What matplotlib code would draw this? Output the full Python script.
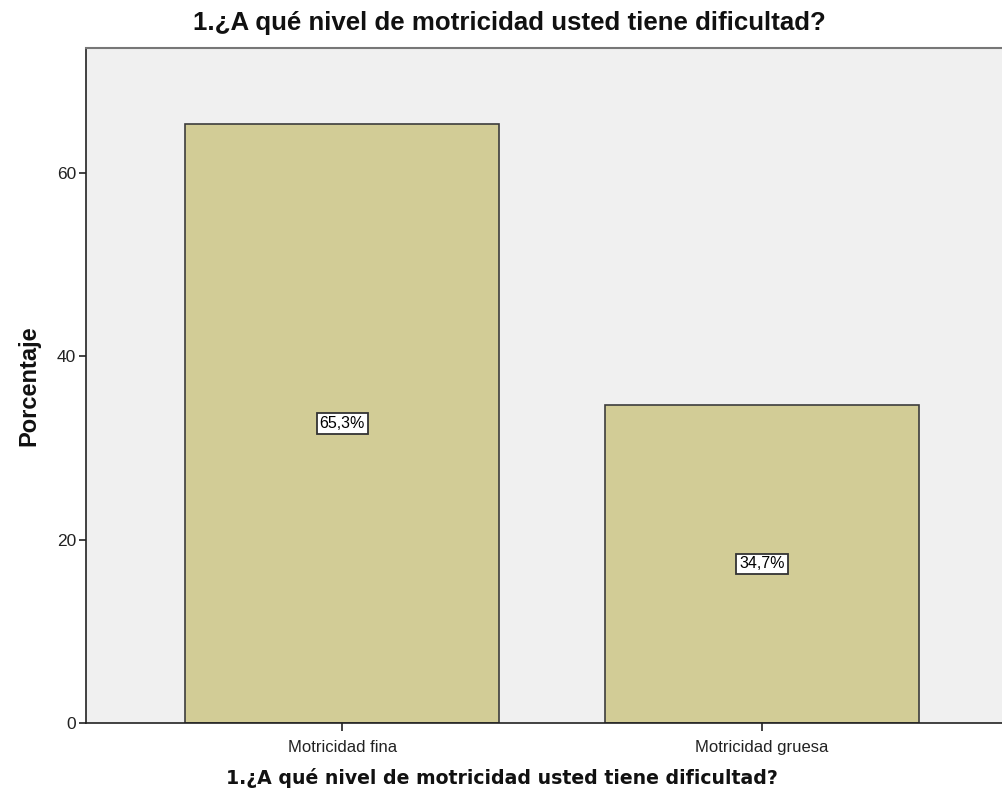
import numpy as np
import matplotlib.pyplot as plt

categorias = ['Motricidad fina', 'Motricidad gruesa']
porcentajes = [65.3, 34.7]
etiquetas = ['65,3%', '34,7%']
yticks = [0, 20, 40, 60]

titulo = '1.¿A qué nivel de motricidad usted tiene dificultad?'

W, H = 1003, 797
fig = plt.figure(figsize=(W / 100, H / 100), dpi=100)
ax = fig.add_axes([86 / W, 1 - 723 / H, 917 / W, (723 - 48) / H])
ax.set_facecolor('#f0f0f0')

x = np.arange(len(categorias))
ax.bar(x, porcentajes, width=0.748, color='#d2cc96', edgecolor='#3c3c3c', linewidth=1.2, zorder=2)

for xi, v, lab in zip(x, porcentajes, etiquetas):
    ax.text(xi, v / 2, lab, ha='center', va='center', fontsize=11.5, family='Liberation Sans',
            bbox=dict(boxstyle='square,pad=0.18', facecolor='white', edgecolor='#333333', linewidth=1.3),
            zorder=3)

ax.set_xlim(-0.61, 1.574)
ax.set_ylim(0, 73.6)
ax.set_yticks(yticks)
ax.set_xticks(x)
ax.set_xticklabels(categorias, family='Liberation Sans', fontsize=12)
ax.tick_params(axis='y', labelsize=12.5, length=5, width=1.2, color='#222222', pad=2)
ax.tick_params(axis='x', length=6, width=1.2, color='#222222', pad=6)
for lab in ax.get_yticklabels():
    lab.set_family('Liberation Sans')
    lab.set_color('#222222')
for lab in ax.get_xticklabels():
    lab.set_color('#222222')

ax.spines['left'].set_color('#222222')
ax.spines['bottom'].set_color('#222222')
ax.spines['left'].set_linewidth(1.2)
ax.spines['bottom'].set_linewidth(1.2)
ax.spines['top'].set_color('#777777')
ax.spines['top'].set_linewidth(1.5)
ax.spines['right'].set_visible(False)

# titulos y etiquetas de ejes
fig.text(509 / W, 1 - 23 / H, titulo, ha='center', va='center',
         family='Liberation Sans', fontweight='bold', fontsize=18.6, color='#111111')
fig.text(502 / W, 1 - 778 / H, titulo, ha='center', va='center',
         family='DejaVu Sans', fontweight='bold', fontsize=13.6, color='#111111')
fig.text(29 / W, 1 - 386 / H, 'Porcentaje', ha='center', va='center', rotation=90,
         family='Liberation Sans', fontweight='bold', fontsize=17, color='#111111')

fig.savefig('out.png', dpi=100)
